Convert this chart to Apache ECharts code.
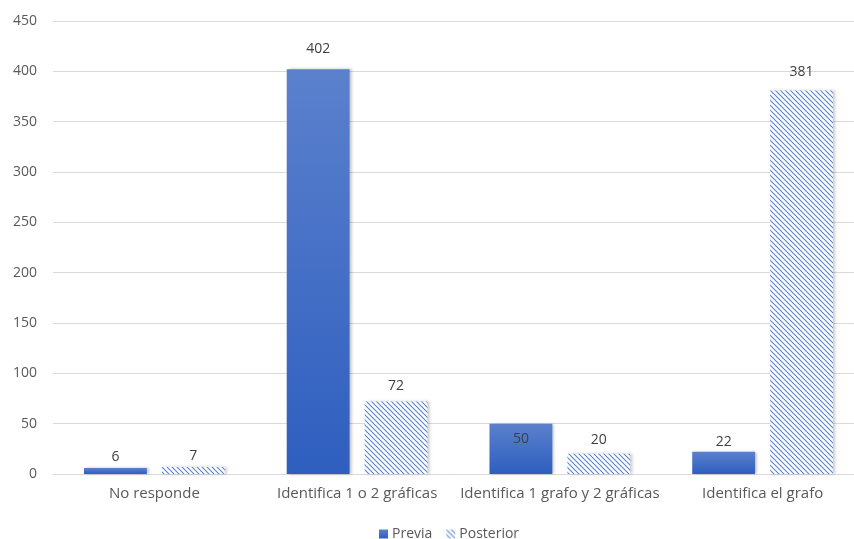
<!DOCTYPE html>
<html>
<head>
<meta charset="utf-8">
<script src="https://cdn.jsdelivr.net/npm/echarts@6/dist/echarts.min.js"></script>
<style>
  html, body { margin: 0; padding: 0; background: #ffffff; }
  #chart { width: 854px; height: 539px; }
</style>
</head>
<body>
<div id="chart"></div>
<script>
// Response categories and counts before / after
const categories = ['No responde', 'Identifica 1 o 2 gráficas', 'Identifica 1 grafo y 2 gráficas', 'Identifica el grafo'];
const previa = [6, 402, 50, 22];
const posterior = [7, 72, 20, 381];
const yTicks = { min: 0, max: 450, interval: 50 };

// Gap between each bar top and its value label (px)
const previaLabelGap = [4, 13, 8, 3];
const posteriorLabelGap = [4, 9, 7, 11];

// Diagonal hatch tile for the "Posterior" bars
function hatchTile() {
  const s = 5;
  const c = document.createElement('canvas');
  c.width = s; c.height = s;
  const g = c.getContext('2d');
  g.fillStyle = '#ffffff';
  g.fillRect(0, 0, s, s);
  g.strokeStyle = '#5a84d0';
  g.lineWidth = 1.1;
  g.beginPath();
  g.moveTo(-1, -1); g.lineTo(s + 1, s + 1);
  g.moveTo(-1, s - 1); g.lineTo(1, s + 1);
  g.moveTo(s - 1, -1); g.lineTo(s + 1, 1);
  g.stroke();
  return c;
}

const textColor = '#595959';
const font = '"Open Sans", "Noto Sans", sans-serif';

const chart = echarts.init(document.getElementById('chart'), null, { renderer: 'canvas' });

// The 50 label sits just inside its bar
const previaData = previa.map(function (v, i) {
  if (v === 50) {
    return { value: v, label: { position: 'insideTop', distance: previaLabelGap[i] } };
  }
  return { value: v, label: { distance: previaLabelGap[i] } };
});
const posteriorData = posterior.map(function (v, i) {
  return { value: v, label: { distance: posteriorLabelGap[i] } };
});

chart.setOption({
  animation: false,
  backgroundColor: '#ffffff',
  grid: { left: 53, width: 811, top: 21, bottom: 65, containLabel: false, outerBoundsMode: 'none' },
  legend: {
    bottom: -7,
    left: 374,
    icon: 'rect',
    itemWidth: 9,
    itemHeight: 9,
    itemGap: 14,
    textStyle: { color: textColor, fontSize: 14, fontFamily: font, padding: [0, 0, 0, -1] },
    data: ['Previa', 'Posterior']
  },
  xAxis: {
    type: 'category',
    data: categories,
    axisLine: { lineStyle: { color: '#d9d9d9' } },
    axisTick: { show: false },
    axisLabel: { color: textColor, fontSize: 15, fontFamily: font, margin: 12, interval: 0 }
  },
  yAxis: {
    type: 'value',
    min: yTicks.min,
    max: yTicks.max,
    interval: yTicks.interval,
    axisLine: { show: false },
    axisTick: { show: false },
    splitLine: { lineStyle: { color: '#d9d9d9' } },
    axisLabel: { color: textColor, fontSize: 14, fontFamily: font, margin: 16 }
  },
  series: [
    {
      name: 'Previa',
      type: 'bar',
      data: previaData,
      barWidth: '31%',
      barGap: '24%',
      itemStyle: {
        color: new echarts.graphic.LinearGradient(0, 0, 0, 1, [
          { offset: 0, color: '#5b81cd' },
          { offset: 1, color: '#2e5ebf' }
        ]),
        shadowColor: 'rgba(0,0,0,0.25)',
        shadowBlur: 3,
        shadowOffsetX: 2
      },
      label: {
        show: true,
        position: 'top',
        color: '#404040',
        fontSize: 14,
        fontFamily: font
      }
    },
    {
      name: 'Posterior',
      type: 'bar',
      data: posteriorData,
      barWidth: '31%',
      itemStyle: {
        color: { image: hatchTile(), repeat: 'repeat' },
        shadowColor: 'rgba(0,0,0,0.2)',
        shadowBlur: 3,
        shadowOffsetX: 2
      },
      label: {
        show: true,
        position: 'top',
        color: '#404040',
        fontSize: 14,
        fontFamily: font
      }
    }
  ]
});
</script>
</body>
</html>
